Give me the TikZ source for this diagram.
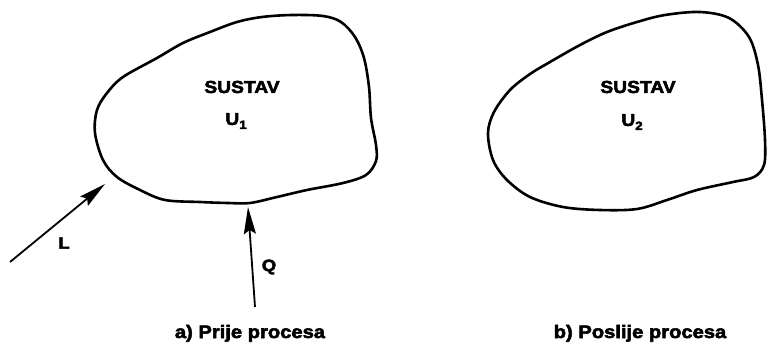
\documentclass[tikz,border=0pt]{standalone}
\usepackage{fontspec}
\usetikzlibrary{arrows.meta}
\newfontfamily\lblfont{Liberation Sans Bold}[FakeStretch=1.12,FakeBold=3]
\tikzset{
  blob/.style={draw=black,line width=2.6pt,line join=round},
  arrline/.style={draw=black,line width=1.8pt,-{Stealth[length=27pt,width=12pt,inset=4pt]}},
  sustav/.style={font=\lblfont\fontsize{17.2}{19}\selectfont,inner sep=0pt},
  captext/.style={font=\lblfont\fontsize{18}{20}\selectfont,inner sep=0pt,anchor=base},
  lab/.style={font=\lblfont\fontsize{16.5}{18}\selectfont,inner sep=0pt}
}
\newcommand{\subsc}[1]{\raisebox{-0.45ex}{\fontsize{12}{12}\selectfont #1}}
\begin{document}
\begin{tikzpicture}[x=1pt,y=-1pt]
\useasboundingbox (0,0) rectangle (767,343);
% blob 1
\draw[blob] plot[smooth cycle,tension=0.55] coordinates {
 (237,22) (262,17) (292,15) (323,16) (341,22) (355,37) (364,58) (369,87) (371,118)
 (376,145) (376,161) (366,175) (343,183) (307,190) (277,197) (250,203) (228,203)
 (200,202) (165,200) (140,190) (117,177) (103,160) (95,133) (97,110) (107,93)
 (123,77) (157,58) (183,43) (210,32)};
% blob 2
\draw[blob] plot[smooth cycle,tension=0.55] coordinates {
 (607,32) (637,22) (665,15) (700,12) (729,18) (749,37) (758,65) (762,100) (765,140)
 (764,165) (754,177) (733,182) (697,190) (667,200) (637,209) (600,210) (563,207)
 (530,197) (507,180) (493,160) (488,133) (494,112) (510,90) (530,74) (550,62) (580,45)};
% texts
\node[sustav] (s1) at (242,87) {SUSTAV};
\node[sustav] (u1) at (236,121) {U\subsc{1}};
\node[sustav] (s2) at (638,87) {SUSTAV};
\node[sustav] (u2) at (632,122) {U\subsc{2}};
% arrows
\coordinate (Ls) at (10,262);
\coordinate (Le) at (105,184);
\coordinate (Qs) at (255,307);
\coordinate (Qe) at (248,207);
\draw[arrline] (Ls) -- (Le);
\draw[arrline] (Qs) -- (Qe);
\node[lab] (L) at (64,243) {L};
\node[lab] (Q) at (269,267) {Q};
% captions
\node[captext] (ca) at (250,338) {a) Prije procesa};
\node[captext] (cb) at (640,338) {b) Poslije procesa};
\end{tikzpicture}
\end{document}
